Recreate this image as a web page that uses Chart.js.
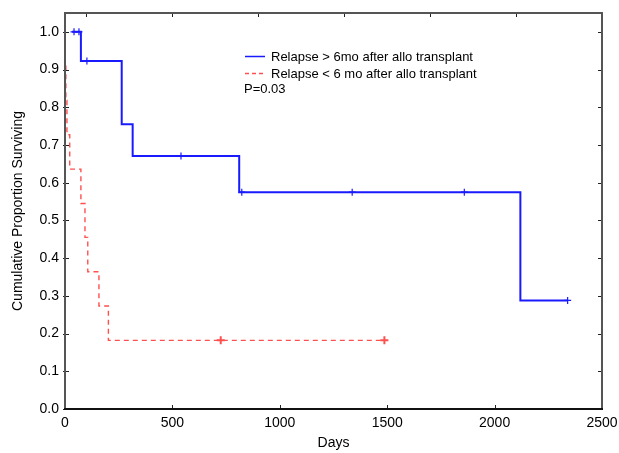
<!DOCTYPE html>
<html>
<head>
<meta charset="utf-8">
<script src="https://cdn.jsdelivr.net/npm/chart.js@4"></script>
<style>
  body { margin: 0; background: #fff; }
</style>
</head>
<body>
<canvas id="kmChart" width="619" height="453"></canvas>
<script>
// Kaplan-Meier: relapse > 6mo after allo transplant (blue)
const blueDays = [33, 74, 264, 315, 811, 2120, 2340];
const blueSurv = [1.0, 0.923, 0.755, 0.671, 0.575, 0.288, 0.288];
const blueCensorDays = [42, 65, 102, 540, 823, 1337, 1859, 2340];
const blueCensorSurv = [1.0, 1.0, 0.923, 0.671, 0.575, 0.575, 0.575, 0.288];

// relapse < 6 mo after allo transplant (red)
const redDays = [0, 4, 9, 22, 74, 93, 106, 158, 202, 1487];
const redSurv = [0.909, 0.818, 0.727, 0.636, 0.545, 0.455, 0.364, 0.273, 0.182, 0.182];
const redCensorDays = [725, 1487];
const redCensorSurv = [0.182, 0.182];

const topTickDays = [100, 500, 900, 1300, 1700, 2100];
const legendLabels = ["Relapse > 6mo after allo transplant", "Relapse < 6 mo after allo transplant"];
const pValueText = "P=0.03";

const BLUE = "#1a1aff";
const RED = "#ff5050";

function toPoints(xs, ys) {
  return xs.map((x, i) => ({ x: x, y: ys[i] }));
}

// frame, inward ticks and the legend box inside the plot
const framePlugin = {
  id: "frame",
  afterDraw(chart) {
    const ctx = chart.ctx;
    const a = chart.chartArea;
    const xs = chart.scales.x;
    const ys = chart.scales.y;
    ctx.save();

    // ticks
    ctx.strokeStyle = "#222";
    ctx.lineWidth = 1;
    ctx.beginPath();
    xs.ticks.forEach(t => {
      const px = Math.round(xs.getPixelForValue(t.value)) + 0.5;
      ctx.moveTo(px, a.bottom);
      ctx.lineTo(px, a.bottom - 4);
    });
    topTickDays.forEach(d => {
      const px = Math.round(xs.getPixelForValue(d)) + 0.5;
      ctx.moveTo(px, a.top);
      ctx.lineTo(px, a.top + 4);
    });
    ys.ticks.forEach(t => {
      const py = Math.round(ys.getPixelForValue(t.value)) + 0.5;
      ctx.moveTo(a.left - 2, py);
      ctx.lineTo(a.left + 4, py);
      ctx.moveTo(a.right - 4, py);
      ctx.lineTo(a.right, py);
    });
    ctx.stroke();

    // frame
    ctx.lineWidth = 2;
    ctx.strokeStyle = "#555";
    ctx.beginPath();
    ctx.moveTo(a.left, a.bottom);
    ctx.lineTo(a.left, a.top);
    ctx.lineTo(a.right, a.top);
    ctx.lineTo(a.right, a.bottom);
    ctx.stroke();
    ctx.strokeStyle = "#111";
    ctx.beginPath();
    ctx.moveTo(a.left - 1, a.bottom);
    ctx.lineTo(a.right + 1, a.bottom);
    ctx.stroke();

    // legend
    ctx.font = "13px 'Liberation Sans', Arial, sans-serif";
    ctx.fillStyle = "#000";
    ctx.textBaseline = "middle";
    ctx.lineWidth = 1.5;
    ctx.strokeStyle = BLUE;
    ctx.beginPath();
    ctx.moveTo(245, 56.5);
    ctx.lineTo(265, 56.5);
    ctx.stroke();
    ctx.fillText(legendLabels[0], 271, 57);

    ctx.strokeStyle = RED;
    ctx.setLineDash([4, 3]);
    ctx.beginPath();
    ctx.moveTo(245, 73.5);
    ctx.lineTo(266, 73.5);
    ctx.stroke();
    ctx.setLineDash([]);
    ctx.fillText(legendLabels[1], 271, 74);
    ctx.fillText(pValueText, 244, 89);

    ctx.restore();
  }
};

const tickFont = { family: "'Liberation Sans', Arial, sans-serif", size: 14 };

new Chart(document.getElementById("kmChart"), {
  type: "scatter",
  data: {
    datasets: [
      {
        data: toPoints(redDays, redSurv),
        showLine: true,
        stepped: "before",
        borderColor: RED,
        borderWidth: 1.4,
        borderDash: [5, 4],
        pointRadius: 0
      },
      {
        data: toPoints(blueDays, blueSurv),
        showLine: true,
        stepped: "before",
        borderColor: BLUE,
        borderWidth: 2,
        pointRadius: 0
      },
      {
        data: toPoints(redCensorDays, redCensorSurv),
        showLine: false,
        pointStyle: "cross",
        pointRadius: 4,
        borderColor: RED,
        borderWidth: 2
      },
      {
        data: toPoints(blueCensorDays, blueCensorSurv),
        showLine: false,
        pointStyle: "cross",
        pointRadius: 3.5,
        borderColor: BLUE,
        borderWidth: 1.2
      }
    ]
  },
  options: {
    responsive: false,
    animation: false,
    layout: { padding: { left: 0, top: 13, right: 17, bottom: 0 } },
    plugins: {
      legend: { display: false },
      tooltip: { enabled: false }
    },
    scales: {
      x: {
        type: "linear",
        min: 0,
        max: 2500,
        grid: { display: false, drawTicks: false },
        border: { display: false },
        ticks: {
          stepSize: 500,
          padding: 6,
          color: "#000",
          font: tickFont,
          maxRotation: 0,
          callback: v => String(v)
        },
        title: { display: true, text: "Days", color: "#000", font: tickFont, padding: { top: 0, bottom: 1 } },
        afterFit(scale) {
          scale.height = 44;
          scale.paddingLeft = 0;
          scale.paddingRight = 0;
        }
      },
      y: {
        min: 0,
        max: 1.05,
        grid: { display: false, drawTicks: false },
        border: { display: false },
        ticks: {
          stepSize: 0.1,
          includeBounds: false,
          padding: 6,
          color: "#000",
          font: tickFont,
          callback: v => v.toFixed(1)
        },
        title: {
          display: true,
          text: "Cumulative Proportion Surviving",
          color: "#000",
          font: tickFont,
          padding: { top: 10, bottom: 0 }
        },
        afterFit(scale) {
          scale.width = 65;
          scale.paddingTop = 0;
          scale.paddingBottom = 0;
        }
      }
    }
  },
  plugins: [framePlugin]
});
</script>
</body>
</html>
